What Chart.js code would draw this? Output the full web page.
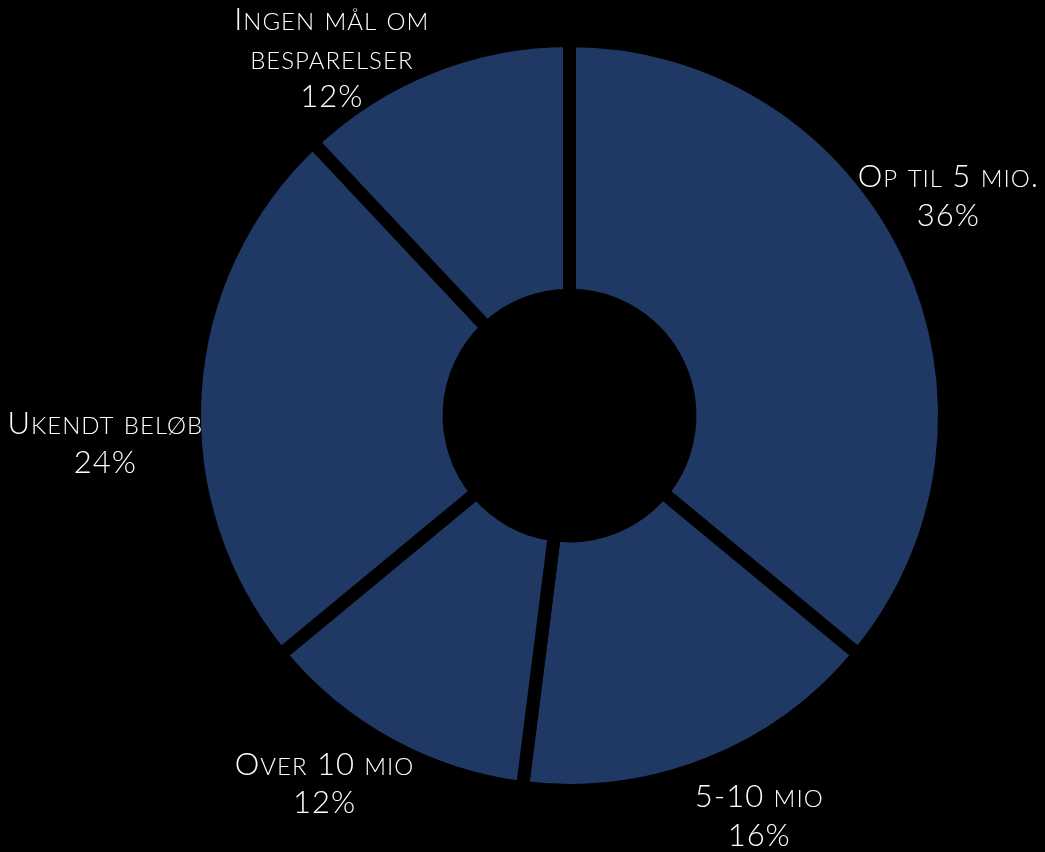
<!DOCTYPE html>
<html>
<head>
<meta charset="utf-8">
<script src="https://cdn.jsdelivr.net/npm/chart.js@4.4.0/dist/chart.umd.min.js"></script>
<style>
  html, body { margin: 0; padding: 0; background: #000; }
  #wrap { width: 1045px; height: 852px; }
</style>
</head>
<body>
<div id="wrap"><canvas id="grafik" width="1045" height="852"></canvas></div>
<script>
// data fra figuren
const kategorier = ['Op til 5 mio.', '5-10 mio', 'Over 10 mio', 'Ukendt beløb', 'Ingen mål om besparelser'];
const andele = [36, 16, 12, 24, 12];
const farve = '#1F3864';

// små justeringer af etiketternes placering (px) i forhold til udkanten
const etiketSkub = [[-21, -32], [27, -11], [-32, -20], [-23, 55], [-75, 53]];

const storSkrift = 31;  // store bogstaver og tal
const lilleSkrift = 24; // kapitæler
const skriftFamilie = 'Lato, "Open Sans", sans-serif';

function kapitaelRuns(tekst) {
    let runs = [];
    for (const ch of tekst) {
        const lille = ch !== ch.toUpperCase();
        const str = lille ? lilleSkrift : storSkrift;
        const c = lille ? ch.toUpperCase() : ch;
        if (runs.length && runs[runs.length - 1].str === str) runs[runs.length - 1].t += c;
        else runs.push({ t: c, str: str });
    }
    return runs;
}

function maalBredde(ctx, tekst) {
    let b = 0;
    for (const r of kapitaelRuns(tekst)) {
        ctx.font = '300 ' + r.str + 'px ' + skriftFamilie;
        b += ctx.measureText(r.t).width;
    }
    return b;
}

function tegnLinje(ctx, tekst, cx, y) {
    let x = cx - maalBredde(ctx, tekst) / 2;
    for (const r of kapitaelRuns(tekst)) {
        ctx.font = '300 ' + r.str + 'px ' + skriftFamilie;
        ctx.fillText(r.t, x, y);
        x += ctx.measureText(r.t).width;
    }
}

function ombryd(ctx, tekst, maks) {
    let linjer = [];
    let linje = '';
    for (const ord of tekst.split(' ')) {
        const prov = linje ? linje + ' ' + ord : ord;
        if (linje && maalBredde(ctx, prov) > maks) {
            linjer.push(linje);
            linje = ord;
        } else {
            linje = prov;
        }
    }
    linjer.push(linje);
    return linjer;
}

const etiketPlugin = {
    id: 'etiketter',
    afterDraw(chart, args, opts) {
        const ctx = chart.ctx;
        const meta = chart.getDatasetMeta(0);
        const data = chart.data.datasets[0].data;
        const total = data.reduce((a, b) => a + b, 0);
        ctx.save();
        ctx.fillStyle = '#ffffff';
        ctx.textAlign = 'left';
        ctx.textBaseline = 'alphabetic';
        ctx.letterSpacing = '1px';
        meta.data.forEach((arc, i) => {
            const p = arc.getProps(['x', 'y', 'startAngle', 'endAngle', 'outerRadius'], true);
            const midt = (p.startAngle + p.endAngle) / 2;
            const r = p.outerRadius + opts.afstand;
            const cx = p.x + Math.cos(midt) * r + opts.skub[i][0];
            const cy = p.y + Math.sin(midt) * r + opts.skub[i][1];
            let linjer = ombryd(ctx, chart.data.labels[i], opts.maksBredde);
            linjer.push(Math.round(data[i] / total * 100) + '%');
            const n = linjer.length;
            let y = cy - ((n - 1) * opts.linjeAfstand + opts.versalHojde) / 2 + opts.versalHojde;
            linjer.forEach(l => {
                tegnLinje(ctx, l, cx, y);
                y += opts.linjeAfstand;
            });
        });
        ctx.restore();
    }
};

const grafik = new Chart(document.getElementById('grafik'), {
    type: 'doughnut',
    data: {
        labels: kategorier,
        datasets: [{
            data: andele,
            backgroundColor: farve,
            borderColor: '#000000',
            borderWidth: 13,
            hoverOffset: 0,
            offset: 0
        }]
    },
    options: {
        responsive: false,
        devicePixelRatio: 1,
        animation: false,
        cutout: '32.1%',
        layout: { padding: { left: 188, right: 94, top: 34, bottom: 55 } },
        plugins: {
            legend: { display: false },
            tooltip: { enabled: false },
            etiketter: {
                afstand: 67,
                skub: etiketSkub,
                maksBredde: 260,
                linjeAfstand: 38.5,
                versalHojde: 22
            }
        }
    },
    plugins: [etiketPlugin]
});
</script>
</body>
</html>
